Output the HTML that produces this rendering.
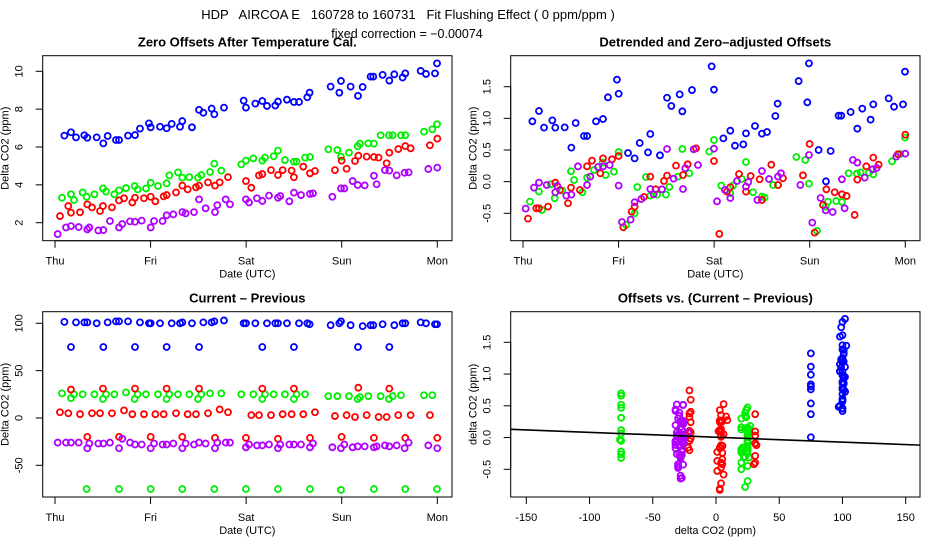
<!DOCTYPE html>
<html><head><meta charset="utf-8"><style>
html,body{margin:0;padding:0;background:#fff;}
svg{display:block;font-family:"Liberation Sans",sans-serif;}
</style></head><body>
<svg id="chart" width="936" height="540" viewBox="0 0 936 540">
<text x="408" y="19" font-size="13" text-anchor="middle" xml:space="preserve">HDP   AIRCOA E   160728 to 160731   Fit Flushing Effect ( 0 ppm/ppm )</text>
<text x="407" y="38" font-size="12.5" text-anchor="middle">fixed correction = −0.00074</text>
</svg>
<script>
// ---- data (time in days since Thu 00:00 UTC) ----
const dayLabels = ["Thu","Fri","Sat","Sun","Mon"];
const p1Ticks = [2,4,6,8,10];
const p2Ticks = [-0.5,0.0,0.5,1.0,1.5];
const p2TickLabels = ["-0.5","0.0","0.5","1.0","1.5"];
const p3Ticks = [-50,0,50,100];
const p4XTicks = [-150,-100,-50,0,50,100,150];
const p4YTicks = [-0.5,0.0,0.5,1.0,1.5];
const fitIntercept = 0.005;
const fitSlope = -0.00077;

const blueT = [0.098,0.167,0.220,0.307,0.338,0.436,0.506,0.551,0.638,0.670,0.764,0.837,0.889,0.983,1.001,1.099,1.168,1.221,1.308,1.332,1.433,1.507,1.552,1.639,1.667,1.768,1.974,1.998,2.096,2.169,2.218,2.305,2.333,2.427,2.500,2.553,2.640,2.664,2.884,2.975,2.992,3.093,3.170,3.219,3.302,3.330,3.428,3.498,3.550,3.637,3.665,3.826,3.882,3.976,3.997];
const blueOffset = [6.60,6.78,6.51,6.62,6.49,6.51,6.19,6.58,6.37,6.37,6.60,6.63,6.97,7.25,7.04,7.07,6.99,7.22,7.07,7.37,7.04,7.96,7.81,8.03,7.73,8.08,8.45,8.08,8.29,8.43,8.17,8.19,8.40,8.50,8.38,8.38,8.63,8.87,9.19,8.87,9.49,9.19,8.70,9.17,9.72,9.72,9.81,9.51,9.84,9.67,9.89,10.02,9.86,9.89,10.42];
const blueDetr = [0.953,1.116,0.853,0.968,0.853,0.858,0.537,0.926,0.721,0.721,0.953,0.989,1.332,1.611,1.389,0.453,0.368,0.611,0.463,0.753,0.416,1.326,1.195,1.379,1.111,1.447,1.821,1.453,0.684,0.805,0.568,0.589,0.763,0.879,0.758,0.784,1.037,1.232,1.589,1.253,1.868,0.5,0.005,0.484,1.042,1.042,1.1,0.837,1.153,0.979,1.221,1.316,1.184,1.221,1.737];
const blueDiff = [101.5,75,101,101,101,100,75,101,102,102,102,75,101,100,100,100,75,100,100,101,100,75,101,101,102,103,100,100,100,75,100,100,100,100,75,100,100,99,98,100,102,98,75,97,98,98,99,75,98,100,100,101,100,99,99];

const greenT = [0.073,0.167,0.199,0.289,0.331,0.412,0.502,0.534,0.621,0.670,0.743,0.833,0.865,0.952,1.001,1.078,1.168,1.196,1.287,1.332,1.405,1.496,1.531,1.622,1.667,1.740,1.949,1.998,2.075,2.169,2.197,2.288,2.333,2.406,2.500,2.528,2.616,2.668,2.860,2.954,2.992,3.076,3.167,3.191,3.278,3.337,3.407,3.494,3.533,3.620,3.665,3.861,3.948,3.997];
const greenOffset = [3.32,3.50,3.20,3.60,3.37,3.50,3.81,3.64,3.50,3.71,3.83,3.94,3.76,3.81,4.11,3.94,4.08,4.50,4.66,4.38,4.41,4.38,4.52,4.68,5.12,4.75,5.08,5.28,5.40,5.28,5.44,5.51,5.81,5.31,5.22,5.22,5.44,5.47,5.88,5.84,5.49,5.70,6.04,6.18,6.19,6.18,6.62,6.62,6.62,6.62,6.62,6.81,6.93,7.20];
const greenDetr = [-0.316,-0.158,-0.447,-0.042,-0.263,-0.142,0.163,0.026,-0.168,0.063,0.184,0.3,0.105,0.158,0.468,-0.684,-0.5,-0.084,0.074,-0.221,-0.205,-0.205,-0.084,0.079,0.516,0.132,0.474,0.658,-0.063,-0.184,-0.063,0.042,0.311,-0.168,-0.237,-0.253,-0.053,-0.053,0.389,0.342,-0.032,-0.779,-0.395,-0.316,-0.305,-0.321,0.132,0.126,0.147,0.142,0.116,0.321,0.437,0.695];
const greenDiff = [26,21,25,25,-75,25,20,25,25,-75,27,20,25,25,-75,25,20,25,25,-75,25,20,25,26,-75,26,25,-75,25,20,25,25,-75,25,20,25,25,-75,23,23,-76,23,20,22,23,-75,23,20,23,24,-75,24,24,-75];

const redT = [0.052,0.139,0.167,0.262,0.338,0.387,0.471,0.502,0.596,0.670,0.722,0.809,0.837,0.931,1.001,1.050,1.137,1.168,1.266,1.332,1.388,1.475,1.507,1.601,1.674,1.723,1.810,1.998,2.054,2.134,2.169,2.260,2.333,2.382,2.476,2.500,2.598,2.668,2.720,2.929,2.999,3.051,3.139,3.174,3.261,3.337,3.386,3.470,3.498,3.592,3.665,3.721,3.923,4.000];
const redOffset = [2.35,2.88,2.53,2.55,2.97,2.81,2.62,2.88,2.81,3.18,3.29,3.07,3.32,3.29,3.37,3.13,3.39,3.46,3.60,3.96,3.76,3.87,3.96,4.13,3.96,4.13,4.41,4.20,3.85,4.50,4.57,4.78,4.52,4.78,4.75,4.40,4.96,4.61,4.73,4.78,5.28,4.85,5.26,5.54,5.49,5.47,5.44,5.14,5.70,5.89,6.05,5.93,6.09,6.44];
const redDetr = [-0.584,-0.421,-0.421,-0.395,-0.016,-0.132,-0.342,-0.095,-0.132,0.242,0.332,0.132,0.368,0.353,0.405,-0.721,-0.474,-0.395,-0.242,0.079,-0.121,0.011,0.095,0.253,0.105,0.274,0.526,0.326,-0.826,-0.158,-0.089,0.121,-0.158,0.089,0.037,-0.289,0.268,-0.053,0.053,0.1,0.595,-0.805,-0.368,-0.121,-0.168,-0.2,-0.226,-0.526,0.032,0.242,0.379,0.268,0.432,0.742];
const redDiff = [6,5,30,4,-20,5,5,31,5,-20,8,4,31,4,-20,4,4,31,5,-20,4,4,31,5,-21,9,6,-21,3,3,31,3,-22,4,4,31,4,-21,6,2,-20,3,1,32,3,-21,1,1,31,3,-21,3,3,-21];

const purpleT = [0.028,0.115,0.167,0.248,0.338,0.359,0.453,0.506,0.575,0.670,0.704,0.785,0.837,0.907,1.001,1.036,1.126,1.168,1.238,1.332,1.367,1.454,1.507,1.576,1.674,1.698,1.786,1.831,1.998,2.030,2.113,2.169,2.239,2.333,2.357,2.452,2.500,2.574,2.668,2.699,2.902,2.992,3.027,3.114,3.167,3.240,3.337,3.365,3.452,3.498,3.575,3.658,3.700,3.906,4.000];
const purpleOffset = [1.40,1.75,1.82,1.77,1.65,1.75,1.59,1.61,2.09,1.75,1.93,2.07,2.05,2.11,1.75,2.09,2.09,2.39,2.44,2.56,2.49,2.56,3.23,2.76,2.56,2.93,3.23,2.97,3.23,3.07,3.29,3.15,3.43,3.32,3.41,3.13,3.59,3.46,3.52,3.55,3.37,3.81,3.81,4.20,3.99,3.97,4.48,4.03,4.78,4.75,4.50,4.64,4.66,4.84,4.91];
const purpleDetr = [-0.426,-0.095,-0.016,-0.053,-0.168,-0.068,-0.221,-0.205,0.242,-0.053,0.079,0.232,0.242,0.263,-0.063,-0.637,-0.6,-0.326,-0.274,-0.116,-0.2,-0.121,0.516,0.047,-0.116,0.211,0.511,0.263,0.521,-0.311,-0.132,-0.258,0.011,-0.079,-0.005,-0.289,0.168,0.042,0.079,0.132,-0.053,0.421,-0.647,-0.258,-0.453,-0.479,0.037,-0.421,0.342,0.3,0.063,0.195,0.216,0.395,0.442];
const purpleDiff = [-26,-26,-26,-26,-32,-27,-27,-27,-26,-32,-22,-26,-28,-28,-32,-27,-28,-28,-27,-32,-27,-28,-26,-27,-32,-26,-26,-26,-31,-28,-29,-29,-28,-32,-28,-28,-28,-28,-31,-27,-31,-32,-28,-31,-30,-30,-31,-30,-29,-30,-29,-32,-26,-29,-32];

// ---- drawing ----
const NS = "http://www.w3.org/2000/svg";
const svg = document.getElementById("chart");
function mk(tag, attrs, parent){ const e=document.createElementNS(NS,tag); for(const k in attrs) e.setAttribute(k,attrs[k]); (parent||svg).appendChild(e); return e; }
function lin(d0,d1,r0,r1){ return v => r0 + (v-d0)*(r1-r0)/(d1-d0); }

const series = [
 {name:"blue", color:"#0000ff", t:blueT, off:blueOffset, det:blueDetr, diff:blueDiff},
 {name:"green", color:"#00ee00", t:greenT, off:greenOffset, det:greenDetr, diff:greenDiff},
 {name:"red", color:"#ff0000", t:redT, off:redOffset, det:redDetr, diff:redDiff},
 {name:"purple", color:"#b000ff", t:purpleT, off:purpleOffset, det:purpleDetr, diff:purpleDiff}
];

function panel(p){
  const g = mk("g",{});
  
  
  const t = mk("text",{x:(p.L+p.R)/2, y:p.T-9, "font-size":13, "font-weight":"bold", "text-anchor":"middle"}, g);
  t.textContent = p.title;
  
  
  const box = mk("rect",{x:p.L, y:p.T, width:p.R-p.L, height:p.B-p.T, fill:"none", stroke:"#000", "stroke-width":1}, g);
  
  
  const xa = mk("g",{}, g);
  
  
  const xs = p.xTicks.map(p.sx);
  mk("line",{x1:xs[0], x2:xs[xs.length-1], y1:p.B, y2:p.B, stroke:"#000"}, xa);
  p.xTicks.forEach((v,i)=>{
    mk("line",{x1:xs[i], x2:xs[i], y1:p.B, y2:p.B+7, stroke:"#000"}, xa);
    const tl = mk("text",{x:xs[i], y:p.B+24, "font-size":11, "text-anchor":"middle"}, xa);
    tl.textContent = p.xLabels[i];
    
    
  });
  const xt = mk("text",{x:(p.L+p.R)/2, y:p.B+37, "font-size":11, "text-anchor":"middle"}, g);
  xt.textContent = p.xTitle;
  
  
  const ya = mk("g",{}, g);
  
  
  const ys = p.yTicks.map(p.sy);
  mk("line",{x1:p.L, x2:p.L, y1:ys[0], y2:ys[ys.length-1], stroke:"#000"}, ya);
  p.yTicks.forEach((v,i)=>{
    mk("line",{x1:p.L-7, x2:p.L, y1:ys[i], y2:ys[i], stroke:"#000"}, ya);
    const lx = p.L-20;
    const tl = mk("text",{x:lx, y:ys[i], "font-size":11, "text-anchor":"middle", transform:`rotate(-90 ${lx} ${ys[i]})`}, ya);
    tl.textContent = p.yLabels[i];
    
    
  });
  const yx = p.L-34, yy=(p.T+p.B)/2;
  const yt = mk("text",{x:yx, y:yy, "font-size":11, "text-anchor":"middle", transform:`rotate(-90 ${yx} ${yy})`}, g);
  yt.textContent = p.yTitle;
  
  
  return g;
}

function points(g, p, xs, ys, color, name){
  const sg = mk("g",{fill:"none", stroke:color, "stroke-width":1.8}, g);
  
  
  xs.forEach((xv,i)=>{
    const c = mk("circle",{cx:p.sx(xv), cy:p.sy(ys[i]), r:3}, sg);
    
    
  });
}

const dayTicks = [0,1,2,3,4];
const P1 = {id:"zero-offsets-panel", title:"Zero Offsets After Temperature Cal.", L:42.7, R:452, T:55.7, B:240.7,
  sx:lin(0,4,55,437.3), sy:lin(2,10,222.7,71.3), xTicks:dayTicks, xLabels:dayLabels, yTicks:p1Ticks, yLabels:p1Ticks.map(String),
  xTitle:"Date (UTC)", yTitle:"Delta CO2 (ppm)"};
const g1 = panel(P1);
series.forEach(s=>points(g1,P1,s.t,s.off,s.color,s.name));
const P2 = {id:"detrended-panel", title:"Detrended and Zero\u2013adjusted Offsets", L:510.7, R:920, T:55.7, B:240.7,
  sx:lin(0,4,523,905.3), sy:lin(-0.5,1.5,213.3,86.7), xTicks:dayTicks, xLabels:dayLabels, yTicks:p2Ticks, yLabels:p2TickLabels,
  xTitle:"Date (UTC)", yTitle:"Delta CO2 (ppm)"};
const g2 = panel(P2);
series.forEach(s=>points(g2,P2,s.t,s.det,s.color,s.name));
const P3 = {id:"current-minus-previous-panel", title:"Current \u2013 Previous", L:42.7, R:452, T:311.7, B:497,
  sx:lin(0,4,55,437.3), sy:lin(-50,100,465.3,323.3), xTicks:dayTicks, xLabels:dayLabels, yTicks:p3Ticks, yLabels:p3Ticks.map(String),
  xTitle:"Date (UTC)", yTitle:"Delta CO2 (ppm)"};
const g3 = panel(P3);
series.forEach(s=>points(g3,P3,s.t,s.diff,s.color,s.name));
const P4 = {id:"offsets-vs-diff-panel", title:"Offsets vs. (Current \u2013 Previous)", L:510.7, R:920, T:311.7, B:497,
  sx:lin(-150,150,526.3,905.7), sy:lin(-0.5,1.5,469.3,342.3), xTicks:p4XTicks, xLabels:p4XTicks.map(String), yTicks:p4YTicks, yLabels:p2TickLabels,
  xTitle:"delta CO2 (ppm)", yTitle:"delta CO2 (ppm)"};
const g4 = panel(P4);
series.forEach(s=>points(g4,P4,s.diff,s.det,s.color,s.name));
const xmin = (P4.L-716)/1.264, xmax = (P4.R-716)/1.264;
const fl = mk("line",{x1:P4.L, x2:P4.R, y1:P4.sy(fitIntercept+fitSlope*xmin), y2:P4.sy(fitIntercept+fitSlope*xmax), stroke:"#000", "stroke-width":1.6}, g4);


</script>
</body></html>
